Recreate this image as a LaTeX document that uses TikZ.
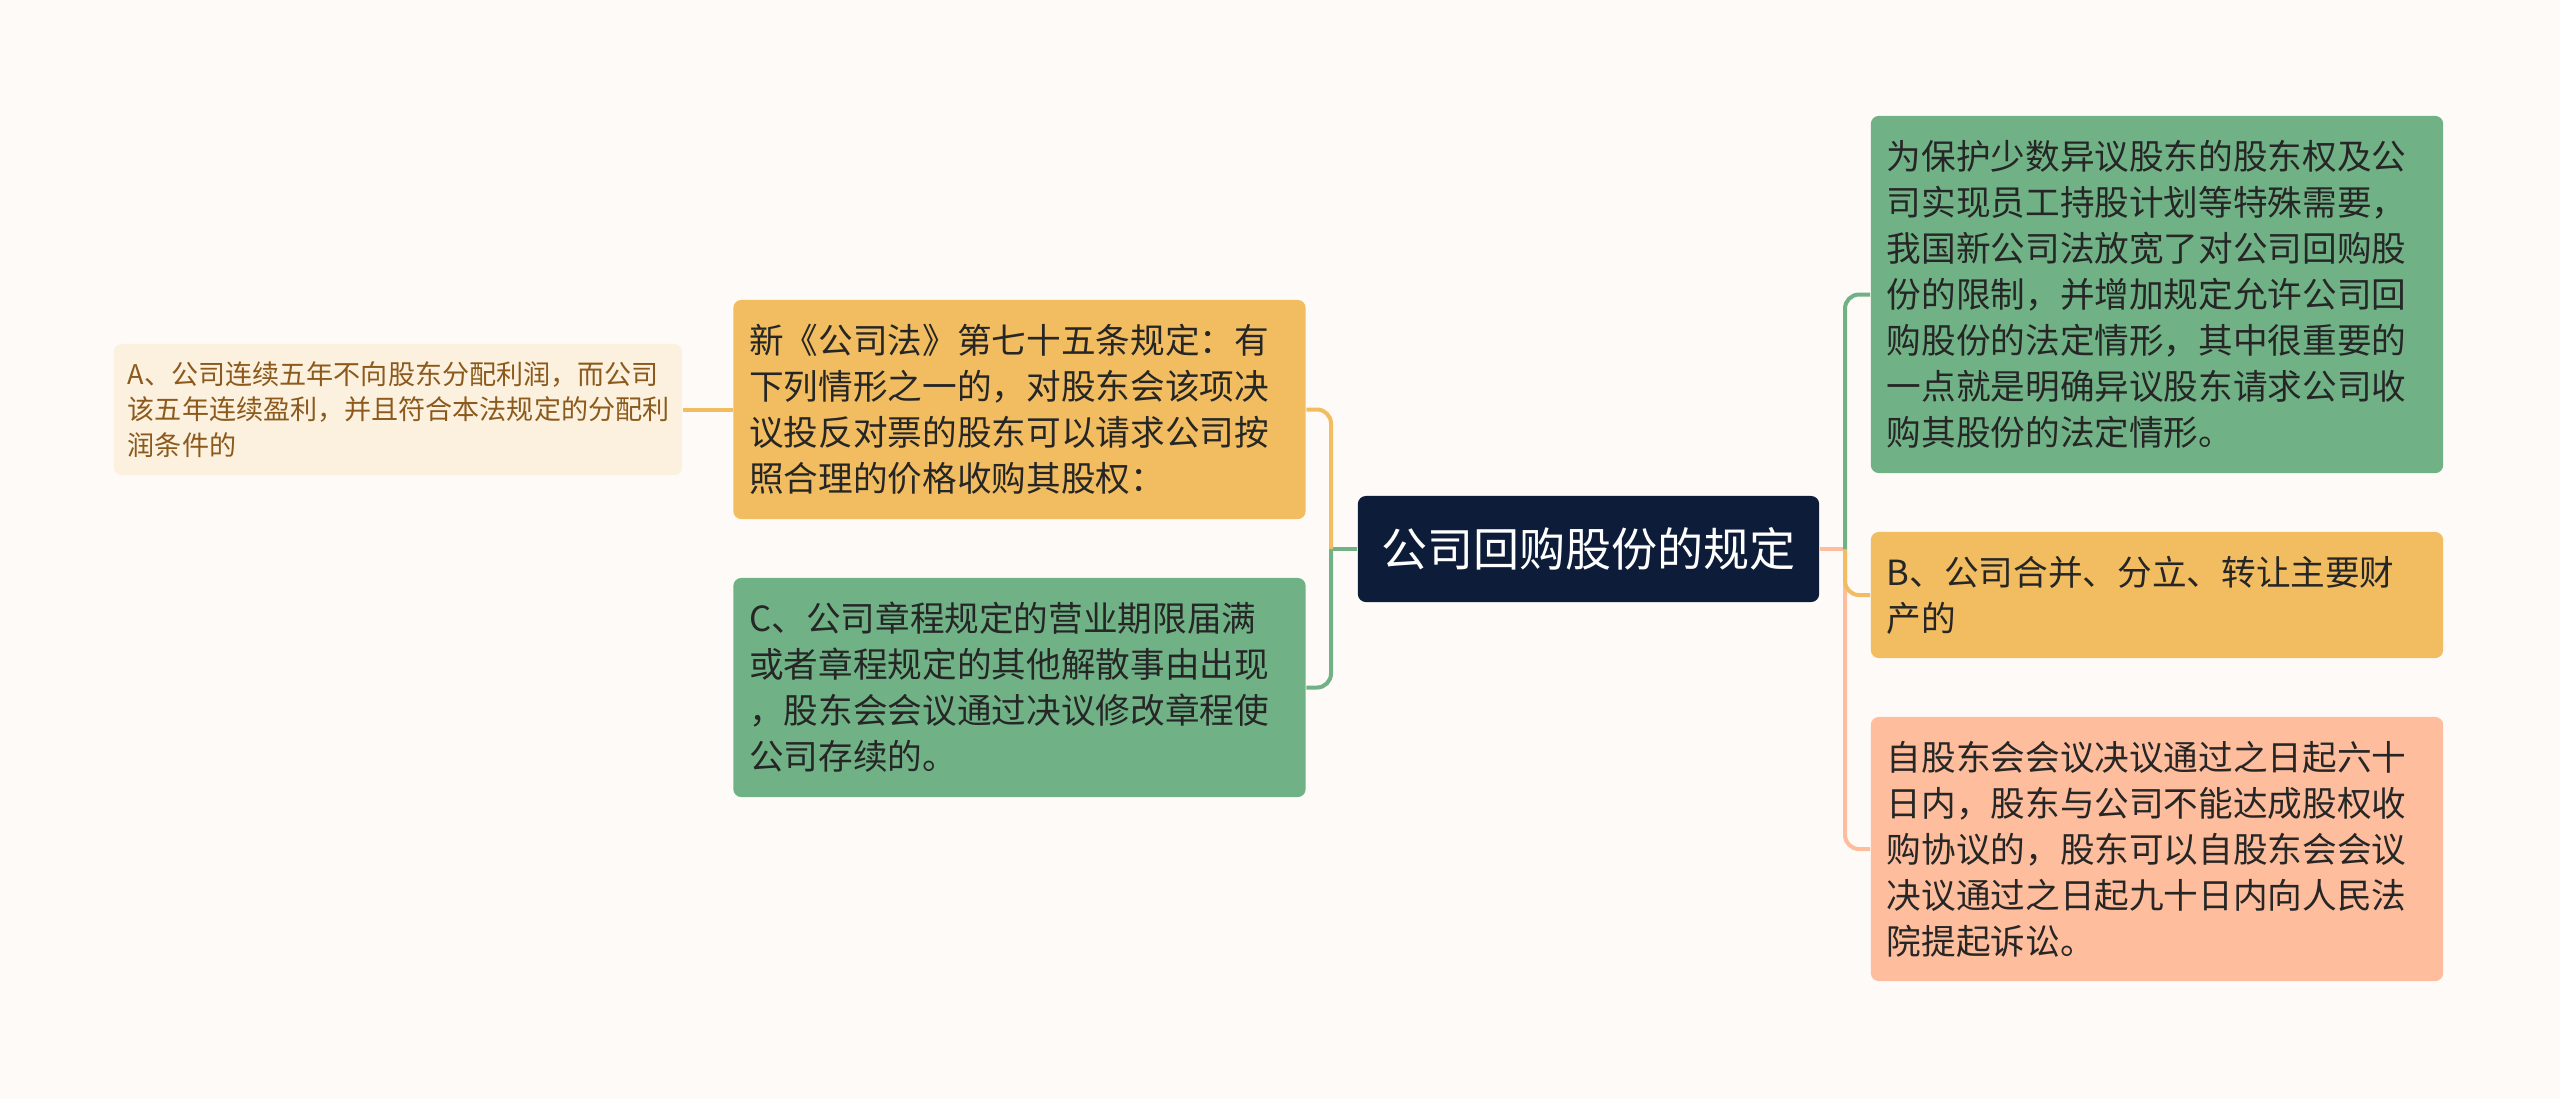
\documentclass[tikz,border=0pt]{standalone}
\usepackage{fontspec}
\setmainfont{Noto Sans CJK SC}
\usepackage{tikz}

\definecolor{bgcol}{HTML}{FDFAF8}
\definecolor{navycol}{HTML}{0D1C38}
\definecolor{orangecol}{HTML}{F1BD60}
\definecolor{greencol}{HTML}{70B286}
\definecolor{peachcol}{HTML}{FEBD9C}
\definecolor{creamcol}{HTML}{FCF1DF}
\definecolor{browncol}{HTML}{8C5A1C}
\definecolor{textcol}{HTML}{262626}

\begin{document}
\begin{tikzpicture}[x=0.01cm, y=-0.01cm,
    box/.style={rounded corners=0.08cm, align=left, inner xsep=0.16cm, inner ysep=0pt,
        text=textcol, text width=5.40cm, font=\fontsize{9.85pt}{13.06pt}\selectfont},
    link/.style={line width=0.04cm, rounded corners=0.14cm}]
    % page and background
    \fill[bgcol] (0,0) rectangle (2560,1099);
    \useasboundingbox (0,0) rectangle (2560,1099);

    % central topic
    \node[fill=navycol, rounded corners=0.08cm, text=white, inner sep=0pt,
        minimum width=4.61cm, minimum height=1.06cm,
        font=\fontsize{13.1pt}{16pt}\selectfont] (root) at (1588.5,549) {公司回购股份的规定};

    % left branch
    \node[box, fill=orangecol, minimum height=2.19cm] (law) at (1019.5,409.5)
        {新《公司法》第七十五条规定：有\\下列情形之一的，对股东会该项决\\议投反对票的股东可以请求公司按\\照合理的价格收购其股权：};
    \node[box, fill=greencol, minimum height=2.19cm] (cc) at (1019.5,687.5)
        {C、公司章程规定的营业期限届满\\或者章程规定的其他解散事由出现\\，股东会会议通过决议修改章程使\\公司存续的。};
    \node[box, fill=creamcol, text=browncol, inner xsep=0.14cm, text width=5.40cm,
        minimum height=1.31cm, font=\fontsize{7.7pt}{10.2pt}\selectfont] (aa) at (398,409.5)
        {A、公司连续五年不向股东分配利润，而公司\\该五年连续盈利，并且符合本法规定的分配利\\润条件的};

    % right branch
    \node[box, fill=greencol, minimum height=3.57cm] (prot) at (2157,294.5)
        {为保护少数异议股东的股东权及公\\司实现员工持股计划等特殊需要，\\我国新公司法放宽了对公司回购股\\份的限制，并增加规定允许公司回\\购股份的法定情形，其中很重要的\\一点就是明确异议股东请求公司收\\购其股份的法定情形。};
    \node[box, fill=orangecol, minimum height=1.26cm] (bb) at (2157,595)
        {B、公司合并、分立、转让主要财\\产的};
    \node[box, fill=peachcol, minimum height=2.64cm] (court) at (2157,849)
        {自股东会会议决议通过之日起六十\\日内，股东与公司不能达成股权收\\购协议的，股东可以自股东会会议\\决议通过之日起九十日内向人民法\\院提起诉讼。};

    \coordinate (jl) at (1331,549);
    \coordinate (jr) at (1845,549);

    % connectors
    \begin{scope}[link]
        \draw[greencol] (root.west) -- (jl);
        \draw[greencol] (jl) |- (cc.east);
        \draw[orangecol] (jl) |- (law.east);
        \draw[orangecol] (aa.east) -- (law.west);
        \draw[peachcol] (root.east) -- (jr);
        \draw[peachcol] (jr) |- (court.west);
        \draw[orangecol] (jr) |- (bb.west);
        \draw[greencol] (jr) |- (prot.west);
    \end{scope}
\end{tikzpicture}
\end{document}
